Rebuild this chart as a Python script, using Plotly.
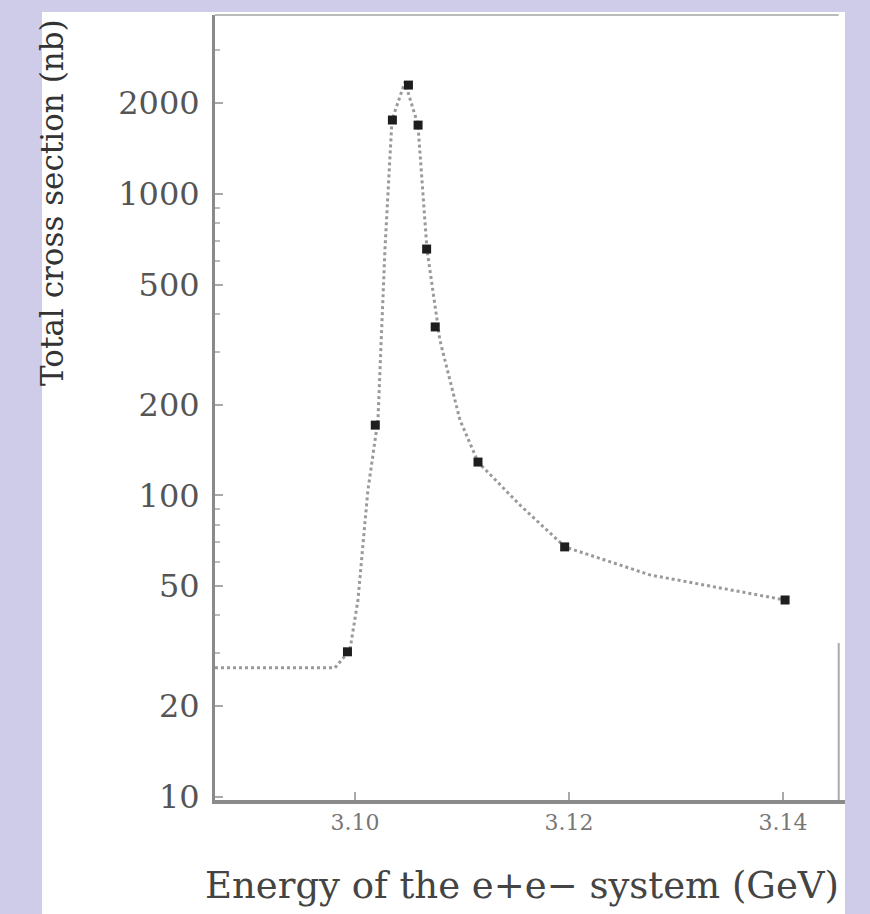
import plotly.graph_objects as go

# Measured points: energy (GeV) and total cross section (nb)
energy = [3.0993, 3.1019, 3.1035, 3.1050, 3.1059, 3.1067, 3.1075, 3.1115, 3.1196, 3.1402]
sigma = [30.3, 171, 1757, 2294, 1690, 656, 362, 129, 67.5, 45.0]

# Dotted guide curve through the points
curve_energy = [3.08692, 3.09813, 3.09953, 3.10028, 3.10121, 3.10215, 3.10280, 3.10346,
                3.10467, 3.10589, 3.10673, 3.10794, 3.10981, 3.11150, 3.11542, 3.11963,
                3.12757, 3.14019]
curve_sigma = [26.8, 26.8, 30.7, 45.0, 104, 178, 651, 1757,
               2348, 1691, 656, 327, 178, 129, 92.9, 67.5,
               54.5, 45.0]

y_ticks = [10, 20, 50, 100, 200, 500, 1000, 2000]
y_tick_labels = ["10", "20", "50", "100", "200", "500", "1000", "2000"]
y_minor = [30, 40, 60, 70, 80, 90, 300, 400, 600, 700, 800, 900, 3000]
x_ticks = [3.10, 3.12, 3.14]
x_tick_labels = ["3.10", "3.12", "3.14"]

lavender = "rgb(206,204,232)"
axis_grey = "#8a8a8a"

fig = go.Figure()
fig.add_trace(go.Scatter(
    x=curve_energy, y=curve_sigma, mode="lines",
    line=dict(color="#9a9a9a", width=3, dash="dot"),
    hoverinfo="skip", showlegend=False))
fig.add_trace(go.Scatter(
    x=energy, y=sigma, mode="markers",
    marker=dict(symbol="square", size=9, color="#1e1e1e"),
    showlegend=False))

fig.update_layout(
    width=870, height=914,
    margin=dict(l=215, r=25, t=15, b=114),
    paper_bgcolor=lavender,
    plot_bgcolor="white",
    font=dict(family="DejaVu Serif", color="#444"),
    xaxis=dict(
        range=[3.08692, 3.1458],
        tickvals=x_ticks, ticktext=x_tick_labels,
        tickfont=dict(size=22, color="#777", family="DejaVu Serif"),
        showgrid=False, zeroline=False,
        showline=True, linecolor=axis_grey, linewidth=4,
        ticks="inside", ticklen=8, tickcolor="#aaa", tickwidth=2,
    ),
    yaxis=dict(
        type="log", range=[0.99, 3.593],
        tickvals=y_ticks, ticktext=y_tick_labels,
        tickfont=dict(size=32, color="#555", family="DejaVu Serif"),
        ticklabelstandoff=6,
        showgrid=False, zeroline=False,
        showline=True, linecolor=axis_grey, linewidth=3,
        ticks="inside", ticklen=8, tickcolor="#aaa", tickwidth=2,
        minor=dict(tickvals=y_minor, ticks="inside", ticklen=5, tickcolor="#bbb", tickwidth=2),
    ),
    shapes=[
        # white panel behind the chart
        dict(type="rect", xref="paper", yref="paper", layer="below",
             x0=(42 - 215) / 630, x1=1.0, y0=(800 - 914) / 785 - 0.01, y1=(800 - 12) / 785,
             fillcolor="white", line=dict(width=0)),
        # faint top frame line
        dict(type="line", xref="paper", yref="paper", x0=0, x1=0.99, y0=1, y1=1,
             line=dict(color="#bbb", width=2)),
        # partial right frame line
        dict(type="line", xref="paper", yref="paper", x0=0.99, x1=0.99, y0=0, y1=0.2,
             line=dict(color="#aaa", width=2)),
    ],
    annotations=[
        dict(text="Energy of the e+e− system (GeV)", xref="paper", yref="paper",
             x=(203 - 215) / 630, y=(800 - 885) / 785, xanchor="left", yanchor="middle",
             showarrow=False, font=dict(size=37, color="#444", family="DejaVu Serif")),
        dict(text="Total cross section (nb)", xref="paper", yref="paper",
             x=(52 - 215) / 630, y=(800 - 202) / 785, xanchor="center", yanchor="middle",
             textangle=-90, showarrow=False,
             font=dict(size=31, color="#333", family="DejaVu Serif")),
    ],
)

fig.write_html(
    "out.html",
    config={"displayModeBar": False},
    post_script="document.body.style.margin='0';document.body.style.background='rgb(206,204,232)';"
                "document.documentElement.style.overflow='hidden';",
)
